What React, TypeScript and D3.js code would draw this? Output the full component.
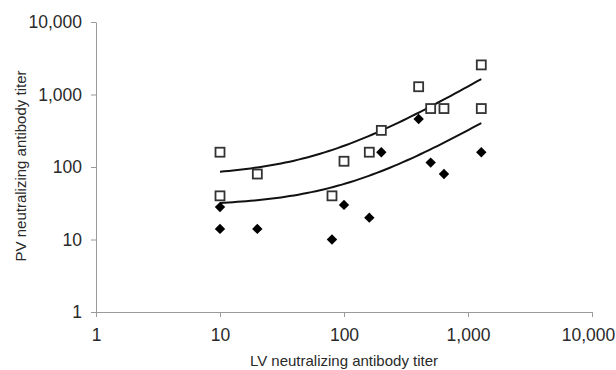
import React, { useEffect, useRef } from "react";
import * as d3 from "d3";

// open squares (upper group)
const squareX = [10, 10, 20, 80, 100, 160, 200, 400, 500, 640, 1280, 1280];
const squareY = [160, 40, 80, 40, 120, 160, 320, 1280, 640, 640, 2560, 640];

// filled diamonds (lower group)
const diamondX = [10, 10, 20, 80, 100, 160, 200, 400, 500, 640, 1280];
const diamondY = [28, 14, 14, 10, 30, 20, 160, 460, 115, 80, 160];

// linear trend lines: [intercept, slope], drawn on log axes
const trendUpper = [74, 1.22];
const trendLower = [29, 0.293];
const trendRange = [10, 1280];

const tickValues = [1, 10, 100, 1000, 10000];
const xTitle = "LV neutralizing antibody titer";
const yTitle = "PV neutralizing antibody titer";

const W = 616;
const H = 370;

export default function App() {
  const ref = useRef<SVGSVGElement>(null);

  useEffect(() => {
    const svg = d3.select(ref.current);
    svg.selectAll("*").remove();

    const x = d3.scaleLog().domain([1, 10000]).range([96, 592]);
    const y = d3.scaleLog().domain([1, 10000]).range([312, 22]);
    const fmt = d3.format(",");
    const font = "Arial, 'Liberation Sans', Helvetica, sans-serif";
    const axisColor = "#9a9a9a";
    const textColor = "#2a2a2a";

    // x axis
    const gx = svg.append("g")
      .attr("transform", `translate(0,${y(1)})`)
      .call(d3.axisBottom(x).tickValues(tickValues).tickFormat(fmt as any)
        .tickSizeInner(5).tickSizeOuter(0).tickPadding(12));
    gx.select(".domain").attr("stroke", axisColor);
    gx.selectAll(".tick line").attr("stroke", axisColor);
    gx.selectAll(".tick text")
      .attr("fill", textColor).attr("font-size", 17.5).attr("font-family", font);
    // keep the last label inside the picture
    gx.selectAll<SVGTextElement, number>(".tick text")
      .filter(d => d === 10000)
      .attr("dx", -4);

    // y axis
    const gy = svg.append("g")
      .attr("transform", `translate(${x(1)},0)`)
      .call(d3.axisLeft(y).tickValues(tickValues).tickFormat(fmt as any)
        .tickSizeInner(5).tickSizeOuter(0).tickPadding(9));
    gy.select(".domain").attr("stroke", axisColor);
    gy.selectAll(".tick line").attr("stroke", axisColor);
    gy.selectAll(".tick text")
      .attr("fill", textColor).attr("font-size", 17.5).attr("font-family", font);

    // trend curves
    const line = d3.line<number[]>()
      .x(d => x(d[0]))
      .y(d => y(d[1]));
    const lo = Math.log10(trendRange[0]);
    const hi = Math.log10(trendRange[1]);
    const steps = d3.range(0, 61).map(i => Math.pow(10, lo + (i / 60) * (hi - lo)));
    [trendUpper, trendLower].forEach(t => {
      svg.append("path")
        .datum(steps.map(v => [v, t[0] + t[1] * v]))
        .attr("d", line)
        .attr("fill", "none")
        .attr("stroke", "#111")
        .attr("stroke-width", 2);
    });

    // open squares
    svg.append("g").selectAll("rect")
      .data(squareX.map((v, i) => [v, squareY[i]]))
      .join("rect")
      .attr("x", d => x(d[0]) - 4.5)
      .attr("y", d => y(d[1]) - 4.5)
      .attr("width", 9)
      .attr("height", 9)
      .attr("fill", "#fff")
      .attr("stroke", "#333")
      .attr("stroke-width", 1.8);

    // diamonds
    const diamond = d3.symbol().type(d3.symbolSquare).size(54);
    svg.append("g").selectAll("path")
      .data(diamondX.map((v, i) => [v, diamondY[i]]))
      .join("path")
      .attr("d", diamond)
      .attr("transform", d => `translate(${x(d[0])},${y(d[1])}) rotate(45)`)
      .attr("fill", "#000");

    // axis titles
    svg.append("text")
      .attr("x", 344)
      .attr("y", 366)
      .attr("text-anchor", "middle")
      .attr("font-size", 15)
      .attr("font-family", font)
      .attr("fill", textColor)
      .text(xTitle);

    svg.append("text")
      .attr("transform", "translate(26,166) rotate(-90)")
      .attr("text-anchor", "middle")
      .attr("font-size", 15)
      .attr("font-family", font)
      .attr("fill", textColor)
      .text(yTitle);
  }, []);

  return (
    <svg ref={ref} width={W} height={H}
      style={{ position: "absolute", left: 0, top: 0, background: "#fff" }} />
  );
}
